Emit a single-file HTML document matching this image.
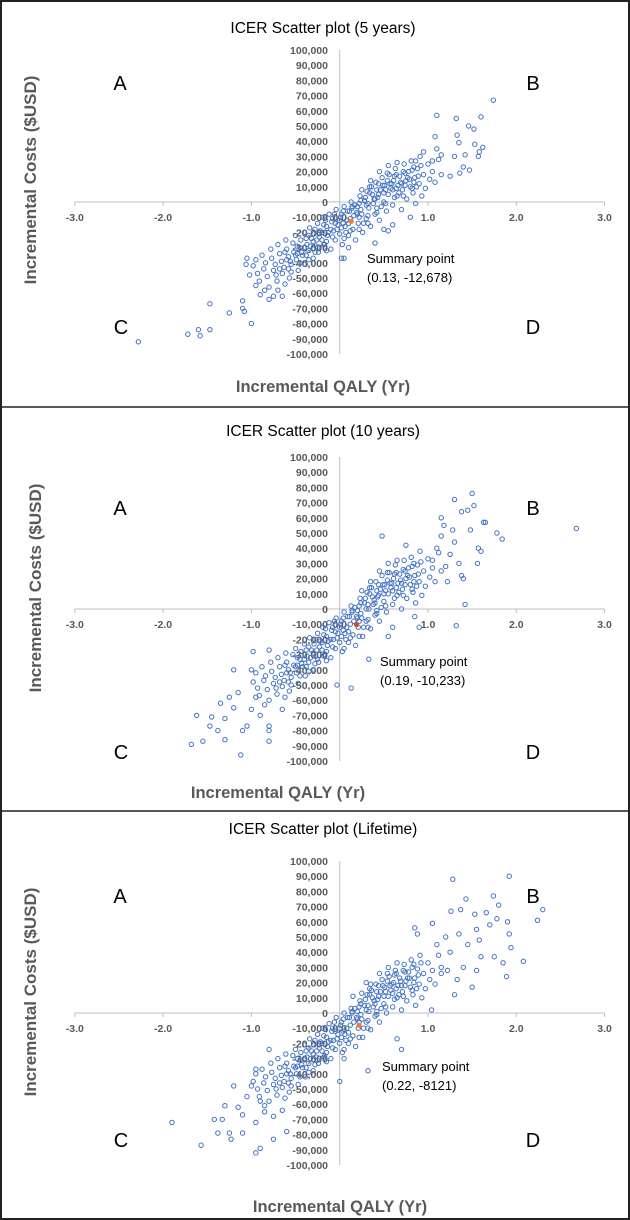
<!DOCTYPE html>
<html><head><meta charset="utf-8"><style>
html,body{margin:0;padding:0;background:#fff}
svg{display:block}
text{font-family:"Liberation Sans",sans-serif}
</style></head><body>
<svg id="chart" width="630" height="1220" viewBox="0 0 630 1220">
<rect x="1" y="1" width="628" height="1218" fill="#fff" stroke="#222" stroke-width="2"/>
<line x1="0" y1="407" x2="630" y2="407" stroke="#222" stroke-width="1.5"/>
<line x1="0" y1="811" x2="630" y2="811" stroke="#222" stroke-width="1.5"/>
</svg>
<script>
// Shared axis tick labels
const xTicks = [-3, -2, -1, 0, 1, 2, 3];
const yTicks = [100,90,80,70,60,50,40,30,20,10,0,-10,-20,-30,-40,-50,-60,-70,-80,-90,-100];
const panelTitles = ["ICER Scatter plot (5 years)", "ICER Scatter plot (10 years)", "ICER Scatter plot (Lifetime)"];
const summaryX = [0.13, 0.19, 0.22];
const summaryY = [-12.678, -10.233, -8.121];
const summaryLabels = ["(0.13, -12,678)", "(0.19, -10,233)", "(0.22, -8121)"];

// Panel 1 (5 years): [incremental QALY, incremental cost in $1000]
const pts5 = [
[-2.28,-92],[-1.72,-87],[-1.6,-84],[-1.58,-88],[-1.47,-67],[-1.47,-84],[-1.25,-73],[-1.1,-70],[-1.08,-72],[-1.1,-65],[-1.0,-80],
[1.1,57],[1.32,55],[1.6,56],[1.74,67],[1.46,50],[1.52,48],[1.08,43],[1.33,44],[1.35,39],[1.53,38],[1.62,36],[1.58,33],[1.57,30],[1.42,31],[1.3,30],[1.47,21],[1.36,19],[1.4,23],[1.25,17],[1.1,35],[1.15,31],[1.05,27],[0.95,33],[0.86,27],
[-1.05,-37],[-1.06,-41],[-1.02,-48],[-0.95,-55],[-0.9,-61],[-0.8,-64],[-0.75,-62],[-0.7,-58],[0.02,-37],[0.05,-37],[0.1,-30],[0.8,-10],[0.55,-19],[0.5,-18],[0.6,-15],[0.4,-27],
[-0.98,-42],[-0.95,-38],[-0.93,-47],[-0.91,-52],[-0.88,-35],[-0.86,-44],[-0.84,-40],[-0.82,-49],[-0.8,-56],[-0.78,-31],[-0.77,-37],[-0.75,-45],[-0.73,-41],[-0.71,-52],[-0.7,-28],[-0.68,-34],[-0.66,-39],[-0.65,-47],[-0.63,-43],[-0.61,-25],[-0.6,-31],[-0.58,-36],[-0.57,-50],[-0.55,-41],[-0.53,-27],[-0.52,-33],[-0.5,-22],[-0.49,-38],[-0.47,-45],[-0.45,-30],[-0.44,-25],[-0.42,-35],[-0.4,-20],[-0.39,-41],[-0.37,-28],[-0.35,-32],[-0.34,-17],[-0.32,-24],[-0.3,-37],[-0.29,-21],[-0.27,-29],[-0.25,-14],[-0.24,-33],[-0.22,-19],[-0.2,-25],[-0.19,-10],[-0.17,-28],[-0.15,-16],[-0.14,-22],[-0.12,-8],[-0.1,-31],[-0.09,-13],[-0.07,-19],[-0.05,-25],[-0.04,-5],[-0.02,-15],[0.0,-21],[0.01,-10],[0.03,-28],[0.05,-3],[0.06,-16],[0.08,-12],[0.1,-22],[0.11,-6],[0.13,0],[0.15,-18],[0.16,-9],[0.18,-25],[0.2,-3],[0.21,-14],[0.23,4],[0.25,-8],[0.26,-20],[0.28,1],[0.3,-11],[0.31,7],[0.33,-4],[0.35,-16],[0.36,10],[0.38,-1],[0.4,-8],[0.41,13],[0.43,3],[0.45,-12],[0.46,8],[0.48,16],[0.5,0],[0.51,11],[0.53,-6],[0.55,5],[0.56,18],[0.58,9],[0.6,-2],[0.61,14],[0.63,22],[0.65,4],[0.66,11],[0.68,17],[0.7,-5],[0.71,8],[0.73,25],[0.75,14],[0.76,2],[0.78,20],[0.8,10],[0.81,27],[0.83,6],[0.85,16],[0.86,-1],[0.88,22],[0.9,12],[0.91,30],[0.93,4],[0.95,18],[0.97,9],[1.0,25],[1.02,15],[1.05,20],[1.08,13],[1.12,28],[1.15,18],
[-0.6,-38],[-0.4,-30],[-0.2,-20],[0,-12],[0.2,-8],[0.4,2],[0.6,8],[-0.5,-35],[-0.3,-26],[-0.1,-18],[0.1,-14],[0.3,-2],[0.5,6],[0.7,12],[-0.72,-48],[-0.62,-54],[-0.85,-58],[-0.65,-62],
[-0.45,-40],[-0.35,-22],[-0.25,-30],[-0.15,-26],[-0.05,-14],[0.07,-20],[0.17,-2],[0.27,-14],[0.37,5],[0.47,-3],[0.57,12],[0.67,6],[0.77,16],[0.87,10],[0.45,20],[0.35,14],[0.25,8],[0.55,24],[0.65,26],[-0.55,-46],[-0.35,-38],[-0.15,-32],[0.05,-24],[0.22,-18],[0.32,-9],[0.42,-4],
[-0.62,-33],[-0.56,-39],[-0.48,-29],[-0.43,-33],[-0.38,-24],[-0.33,-29],[-0.28,-18],[-0.23,-23],[-0.18,-15],[-0.13,-20],[-0.08,-11],[-0.03,-18],[0.02,-8],[0.04,-14],[0.09,-6],[0.12,-11],[0.14,-3],[0.19,-7],[0.22,-1],[0.24,-5],[0.29,3],[0.32,-1],[0.34,6],[0.39,2],[0.42,8],[0.44,5],[0.49,11],[0.52,8],[0.54,14],[0.59,12],[0.62,17],[0.64,9],[0.69,13],[0.72,20],[0.74,11],[0.79,15],[0.82,21],[0.84,13],[0.89,17],[0.92,24],
[-0.28,-33],[-0.18,-28],[-0.08,-23],[0.02,-17],[0.12,-19],[0.22,-10],[0.32,-14],[0.42,-7],[0.52,-1],[0.62,3],[0.72,4],[0.82,9],[-0.68,-44],[-0.58,-44],[-0.48,-34],[-0.38,-35],[-0.26,-25],[-0.16,-12],[-0.06,-8],[0.04,-6],[0.14,-4],[0.24,1],[0.34,10],[0.44,12],[0.54,19],[0.64,18],[0.74,19],[0.84,23]
];

// Panel 2 (10 years)
const pts10 = [
[2.68,53],[1.84,46],[1.78,50],[1.65,57],[1.63,57],[1.5,76],[1.3,72],[1.52,68],[1.45,65],[1.38,64],[1.48,52],[1.57,40],[1.6,38],[1.56,30],[1.4,20],[1.42,3],[1.32,-11],[1.15,60],[1.18,55],[0.48,48],[0.75,42],
[-1.68,-89],[-1.55,-87],[-1.62,-70],[-1.45,-71],[-1.47,-77],[-1.3,-86],[-1.12,-96],[-1.1,-80],[-1.05,-77],[-0.8,-87],[-0.8,-80],[-0.8,-77],[-1.2,-65],[-1.3,-72],[-1.0,-40],[-0.98,-28],[-0.8,-27],[-1.2,-40],[0.13,-52],[-0.03,-50],[0.33,-33],[0.55,-18],[0.6,-12],[0.85,-5],[0.9,-12],
[1.3,44],[1.25,36],[1.35,30],[1.2,28],[1.1,40],[1.05,32],[1.38,22],[1.22,18],[1.15,48],[1.28,52],[-1.35,-62],[-1.25,-58],[-1.15,-55],[-1.38,-80],[-1.0,-66],[-0.9,-70],[-0.95,-58],
[-0.98,-48],[-0.95,-42],[-0.93,-52],[-0.91,-57],[-0.88,-38],[-0.86,-47],[-0.84,-44],[-0.82,-53],[-0.8,-60],[-0.78,-35],[-0.77,-41],[-0.75,-49],[-0.73,-45],[-0.71,-56],[-0.7,-32],[-0.68,-38],[-0.66,-43],[-0.65,-51],[-0.63,-47],[-0.61,-29],[-0.6,-35],[-0.58,-40],[-0.57,-54],[-0.55,-45],[-0.53,-30],[-0.52,-37],[-0.5,-26],[-0.49,-42],[-0.47,-49],[-0.45,-33],[-0.44,-28],[-0.42,-38],[-0.4,-23],[-0.39,-44],[-0.37,-31],[-0.35,-35],[-0.34,-19],[-0.32,-27],[-0.3,-40],[-0.29,-23],[-0.27,-31],[-0.25,-16],[-0.24,-35],[-0.22,-21],[-0.2,-27],[-0.19,-12],[-0.17,-30],[-0.15,-18],[-0.14,-24],[-0.12,-9],[-0.1,-32],[-0.09,-14],[-0.07,-20],[-0.05,-26],[-0.04,-6],[-0.02,-16],[0.0,-22],[0.01,-10],[0.03,-28],[0.05,-2],[0.06,-16],[0.08,-12],[0.1,-22],[0.11,-5],[0.13,2],[0.15,-17],[0.16,-8],[0.18,-24],[0.2,-1],[0.21,-12],[0.23,7],[0.25,-6],[0.26,-18],[0.28,4],[0.3,-8],[0.31,11],[0.33,0],[0.35,-13],[0.36,14],[0.38,3],[0.4,-4],[0.41,18],[0.43,8],[0.45,-8],[0.46,13],[0.48,22],[0.5,5],[0.51,16],[0.53,-2],[0.55,10],[0.56,24],[0.58,14],[0.6,3],[0.61,20],[0.63,29],[0.65,9],[0.66,17],[0.68,23],[0.7,0],[0.71,13],[0.73,32],[0.75,20],[0.76,7],[0.78,27],[0.8,16],[0.81,34],[0.83,11],[0.85,22],[0.86,4],[0.88,29],[0.9,18],[0.91,38],[0.93,9],[0.95,25],[0.97,15],[1.0,33],[1.02,21],[1.05,27],[1.08,18],[1.12,37],[1.15,25],
[-0.6,-42],[-0.4,-33],[-0.2,-22],[0,-12],[0.2,-6],[0.4,4],[0.6,12],[-0.5,-38],[-0.3,-29],[-0.1,-20],[0.1,-15],[0.3,0],[0.5,10],[0.7,17],[-0.72,-52],[-0.62,-58],[-0.85,-63],[-0.65,-66],
[-0.45,-44],[-0.35,-25],[-0.25,-33],[-0.15,-28],[-0.05,-15],[0.07,-20],[0.17,1],[0.27,-12],[0.37,8],[0.47,1],[0.57,17],[0.67,11],[0.77,22],[0.87,15],[0.45,25],[0.35,18],[0.25,12],[0.55,30],[0.65,32],[-0.55,-50],[-0.35,-41],[-0.15,-34],[0.05,-26],[0.22,-18],[0.32,-7],[0.42,-1],
[-0.62,-37],[-0.56,-42],[-0.48,-32],[-0.43,-36],[-0.38,-27],[-0.33,-32],[-0.28,-20],[-0.23,-25],[-0.18,-17],[-0.13,-21],[-0.08,-12],[-0.03,-19],[0.02,-8],[0.04,-14],[0.09,-5],[0.12,-10],[0.14,-1],[0.19,-5],[0.22,2],[0.24,-3],[0.29,7],[0.32,3],[0.34,10],[0.39,6],[0.42,12],[0.44,9],[0.49,16],[0.52,12],[0.54,19],[0.59,17],[0.62,23],[0.64,14],[0.69,19],[0.72,26],[0.74,16],[0.79,21],[0.82,28],[0.84,18],[0.89,23],[0.92,31],
[-0.28,-36],[-0.18,-31],[-0.08,-25],[0.02,-18],[0.12,-19],[0.22,-8],[0.32,-12],[0.42,-3],[0.52,2],[0.62,7],[0.72,9],[0.82,13],[-0.68,-48],[-0.58,-48],[-0.48,-37],[-0.38,-38],[-0.26,-27],[-0.16,-13],[-0.06,-8],[0.04,-6],[0.14,-2],[0.24,4],[0.34,14],[0.44,16],[0.54,24],[0.64,24],[0.74,25],[0.84,30]
];

// Panel 3 (Lifetime)
const ptsLife = [
[1.92,90],[1.28,88],[1.74,77],[1.43,75],[1.8,71],[2.3,68],[2.24,61],[1.26,67],[1.37,68],[1.53,65],[1.66,66],[1.9,60],[1.92,52],[1.94,43],[2.08,34],[1.89,24],[1.75,37],[1.85,33],[1.6,37],[1.5,17],[1.3,12],[1.04,2],[0.85,56],[0.88,52],[1.05,59],
[1.2,50],[1.35,52],[1.55,55],[1.45,45],[1.7,58],[1.25,40],[1.4,30],[1.55,28],[1.15,30],[1.33,22],[1.58,48],[1.78,62],[1.1,45],[1.22,28],
[-1.9,-72],[-1.57,-87],[-1.38,-79],[-1.23,-83],[-1.25,-79],[-1.1,-79],[-0.95,-92],[-0.9,-89],[-0.75,-83],[-0.6,-78],[-1.2,-48],[-0.95,-37],[-0.8,-24],[-1.3,-61],[-1.33,-70],[-1.42,-70],[0.3,20],[0.15,11],[0.7,-24],[0.65,-17],[0.32,-38],[0.0,-45],[0.05,-30],
[-1.15,-62],[-1.05,-55],[-1.1,-67],[-0.95,-72],[-0.85,-65],[-1.0,-48],[-0.9,-58],[-0.75,-68],
[-0.98,-45],[-0.95,-40],[-0.93,-50],[-0.91,-55],[-0.88,-37],[-0.86,-46],[-0.84,-42],[-0.82,-51],[-0.8,-58],[-0.78,-33],[-0.77,-39],[-0.75,-47],[-0.73,-43],[-0.71,-54],[-0.7,-30],[-0.68,-36],[-0.66,-41],[-0.65,-49],[-0.63,-45],[-0.61,-27],[-0.6,-33],[-0.58,-38],[-0.57,-52],[-0.55,-43],[-0.53,-28],[-0.52,-35],[-0.5,-24],[-0.49,-40],[-0.47,-47],[-0.45,-31],[-0.44,-26],[-0.42,-36],[-0.4,-21],[-0.39,-42],[-0.37,-29],[-0.35,-33],[-0.34,-17],[-0.32,-25],[-0.3,-38],[-0.29,-21],[-0.27,-29],[-0.25,-14],[-0.24,-33],[-0.22,-19],[-0.2,-25],[-0.19,-10],[-0.17,-28],[-0.15,-16],[-0.14,-22],[-0.12,-7],[-0.1,-30],[-0.09,-12],[-0.07,-18],[-0.05,-24],[-0.04,-3],[-0.02,-14],[0.0,-20],[0.01,-8],[0.03,-26],[0.05,0],[0.06,-14],[0.08,-10],[0.1,-20],[0.11,-3],[0.13,3],[0.15,-15],[0.16,-6],[0.18,-22],[0.2,1],[0.21,-10],[0.23,8],[0.25,-4],[0.26,-16],[0.28,5],[0.3,-6],[0.31,12],[0.33,1],[0.35,-11],[0.36,15],[0.38,4],[0.4,-2],[0.41,19],[0.43,9],[0.45,-6],[0.46,14],[0.48,22],[0.5,6],[0.51,17],[0.53,0],[0.55,11],[0.56,24],[0.58,15],[0.6,4],[0.61,20],[0.63,28],[0.65,10],[0.66,18],[0.68,23],[0.7,2],[0.71,14],[0.73,32],[0.75,21],[0.76,8],[0.78,27],[0.8,17],[0.81,35],[0.83,12],[0.85,23],[0.86,5],[0.88,29],[0.9,19],[0.91,38],[0.93,10],[0.95,26],[0.97,16],[1.0,33],[1.02,22],[1.05,28],[1.08,19],[1.12,38],[1.15,26],
[-0.6,-40],[-0.4,-30],[-0.2,-20],[0,-10],[0.2,-4],[0.4,6],[0.6,13],[-0.5,-36],[-0.3,-27],[-0.1,-18],[0.1,-13],[0.3,2],[0.5,11],[0.7,18],[-0.72,-50],[-0.62,-56],[-0.85,-61],[-0.65,-64],
[-0.45,-42],[-0.35,-23],[-0.25,-31],[-0.15,-26],[-0.05,-12],[0.07,-18],[0.17,3],[0.27,-10],[0.37,10],[0.47,3],[0.57,18],[0.67,12],[0.77,23],[0.87,16],[0.45,26],[0.35,19],[0.25,13],[0.55,30],[0.65,33],[-0.55,-48],[-0.35,-39],[-0.15,-32],[0.05,-24],[0.22,-16],[0.32,-5],[0.42,1],
[-0.62,-35],[-0.56,-40],[-0.48,-30],[-0.43,-34],[-0.38,-25],[-0.33,-30],[-0.28,-18],[-0.23,-23],[-0.18,-15],[-0.13,-19],[-0.08,-10],[-0.03,-17],[0.02,-6],[0.04,-12],[0.09,-3],[0.12,-8],[0.14,1],[0.19,-3],[0.22,4],[0.24,-1],[0.29,9],[0.32,5],[0.34,12],[0.39,8],[0.42,14],[0.44,11],[0.49,18],[0.52,14],[0.54,21],[0.59,19],[0.62,25],[0.64,16],[0.69,21],[0.72,28],[0.74,18],[0.79,23],[0.82,30],[0.84,20],[0.89,25],[0.92,33],
[-0.28,-34],[-0.18,-29],[-0.08,-23],[0.02,-16],[0.12,-17],[0.22,-6],[0.32,-10],[0.42,-1],[0.52,4],[0.62,9],[0.72,11],[0.82,15],[-0.68,-46],[-0.58,-46],[-0.48,-35],[-0.38,-36],[-0.26,-25],[-0.16,-11],[-0.06,-6],[0.04,-4],[0.14,0],[0.24,6],[0.34,16],[0.44,18],[0.54,26],[0.64,26],[0.74,27],[0.84,32]
];
const allPoints = [pts5, pts10, ptsLife];

// Layout (not data)
const layout = [
  {axisY:202, titleY:33, xTitleX:323, xTitleY:392, yTitleX:30, yTitleY:180, sumX:367, sumY:263, ab:{ay:90, cy:334}},
  {axisY:609, titleY:436, xTitleX:278, xTitleY:798, yTitleX:35, yTitleY:588, sumX:380, sumY:666, ab:{ay:515, cy:759}},
  {axisY:1013, titleY:834, xTitleX:340, xTitleY:1212, yTitleX:30, yTitleY:992, sumX:382, sumY:1071, ab:{ay:903, cy:1147}}
];
const X0 = 339.7, XS = 88.3, YS = 1.52;
const NS = 'http://www.w3.org/2000/svg';
const svg = document.getElementById('chart');
function mk(tag, attrs, parent) {
  const e = document.createElementNS(NS, tag);
  for (const k in attrs) e.setAttribute(k, attrs[k]);
  (parent || svg).appendChild(e);
  return e;
}
function fmt(v) { return v === 0 ? '0' : (v * 1000).toLocaleString('en-US'); }

layout.forEach((L, p) => {
  const g = mk('g', {});
  
  
  const xs = v => X0 + v * XS;
  const ys = v => L.axisY - v * YS;

  const t = mk('text', {x: 323, y: L.titleY, 'text-anchor': 'middle', 'font-size': 15.5, fill: '#000'}, g);
  t.textContent = panelTitles[p];
  
  

  const xa = mk('line', {x1: xs(-3), x2: xs(3), y1: L.axisY, y2: L.axisY, stroke: '#bfbfbf', 'stroke-width': 1}, g);
  
  
  const ya = mk('line', {x1: X0, x2: X0, y1: ys(100), y2: ys(-100), stroke: '#bfbfbf', 'stroke-width': 1}, g);
  
  

  xTicks.forEach(v => {
    const tk = mk('line', {x1: xs(v), x2: xs(v), y1: L.axisY, y2: L.axisY + 4, stroke: '#bfbfbf'}, g);
    
    
    const lb = mk('text', {x: xs(v), y: L.axisY + 19, 'text-anchor': 'middle', 'font-size': 10.5, 'font-weight': 'bold', fill: '#595959'}, g);
    lb.textContent = v.toFixed(1);
    
    
  });
  yTicks.forEach(v => {
    const lb = mk('text', {x: 328, y: ys(v) + 4, 'text-anchor': 'end', 'font-size': 10.5, 'font-weight': 'bold', fill: '#595959'}, g);
    lb.textContent = fmt(v);
    
    
  });

  allPoints[p].forEach(pt => {
    const c = mk('circle', {cx: xs(pt[0]), cy: ys(pt[1]), r: 2.2, fill: 'none', stroke: '#4472C4', 'stroke-width': 1}, g);
    
    
  });
  const sp = mk('circle', {cx: xs(summaryX[p]), cy: ys(summaryY[p]), r: 2.6, fill: p === 1 ? '#E8401C' : '#ED7D31'}, g);
  
  

  const s1 = mk('text', {x: L.sumX, y: L.sumY, 'font-size': 13, fill: '#000'}, g);
  s1.textContent = 'Summary point';
  
  
  const s2 = mk('text', {x: L.sumX, y: L.sumY + 19, 'font-size': 13, fill: '#000'}, g);
  s2.textContent = summaryLabels[p];
  
  

  [['A', 120, L.ab.ay], ['B', 533, L.ab.ay], ['C', 121, L.ab.cy], ['D', 533, L.ab.cy]].forEach(q => {
    const e = mk('text', {x: q[1], y: q[2], 'text-anchor': 'middle', 'font-size': 20, fill: '#000'}, g);
    e.textContent = q[0];
    
    
  });

  const xt = mk('text', {x: L.xTitleX, y: L.xTitleY, 'text-anchor': 'middle', 'font-size': 16.5, 'font-weight': 'bold', fill: '#595959'}, g);
  xt.textContent = 'Incremental QALY (Yr)';
  
  
  const yt = mk('text', {x: 0, y: 0, 'text-anchor': 'middle', 'font-size': 17, 'font-weight': 'bold', fill: '#595959', transform: `translate(${L.yTitleX + 6},${L.yTitleY}) rotate(-90)`}, g);
  yt.textContent = 'Incremental Costs ($USD)';
  
  
});
</script>
</body></html>
